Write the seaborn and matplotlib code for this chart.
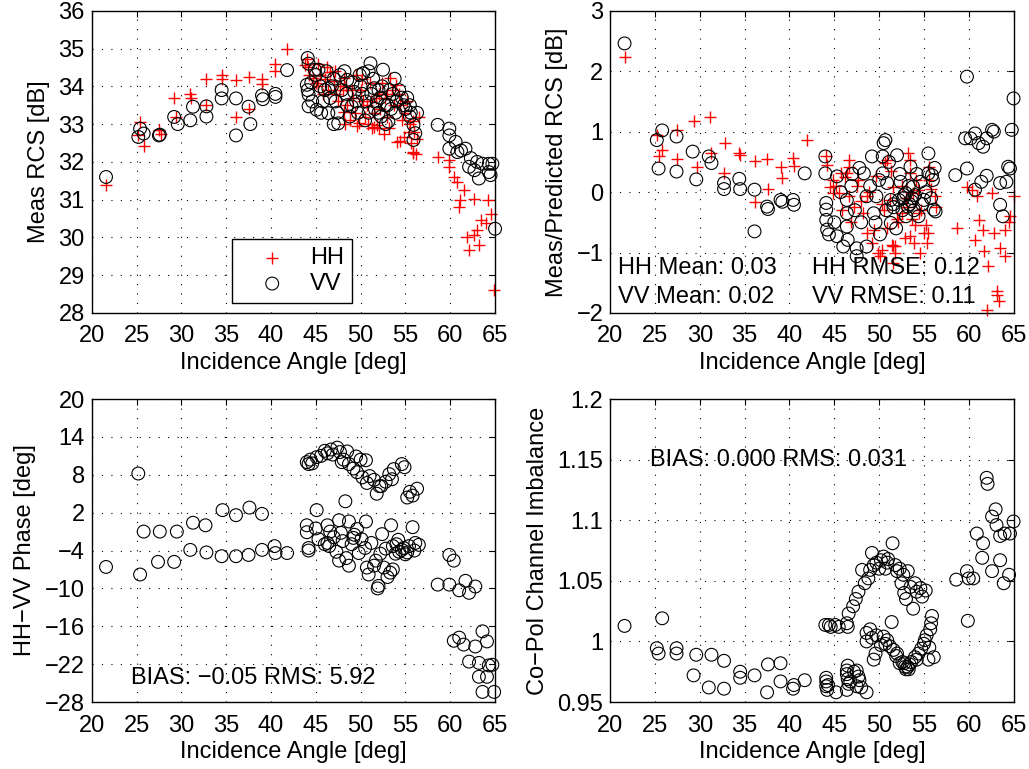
import matplotlib
matplotlib.use("Agg")
import matplotlib.pyplot as plt
import seaborn as sns
from matplotlib.ticker import FuncFormatter

# ---- panel 1: measured RCS [dB] ----
rcs_hh_ang = [21.6, 25.2, 25.4, 25.8, 27.5, 27.7, 29.2, 29.4, 31.0, 31.1, 32.8, 32.8,
              34.5, 34.5, 36.1, 36.1, 37.5, 37.6, 39.0, 39.0, 40.4, 40.4, 41.8,
              44.0, 44.1, 43.8, 44.2, 44.7, 45.0, 45.5, 45.3, 46.0, 46.6, 46.4, 47.0,
              47.3, 47.5, 48.1, 48.0, 48.1, 48.5, 48.8, 49.2, 49.8, 49.5, 50.0, 50.3,
              50.7, 51.0, 51.3, 51.5, 51.8, 51.5, 52.0, 52.2, 52.6, 52.7, 53.0, 53.3,
              53.5, 54.0, 54.1, 54.3, 54.4, 54.4, 54.8, 55.0, 55.2, 55.5, 55.9, 55.8,
              55.9, 56.2, 56.0, 56.5,
              45.2, 45.8, 46.3, 47.1, 47.7, 48.4, 49.0, 49.4, 50.2, 50.5, 51.2, 51.7,
              52.4, 52.9, 53.7, 53.2, 52.0, 50.8, 49.6, 48.3, 55.4, 55.6, 54.6, 56.3,
              58.6, 59.9, 59.9, 60.4, 60.8, 61.5, 61.1, 61.0, 62.7, 64.2, 64.5, 63.4,
              64.0, 63.0, 61.9, 62.7, 62.1, 63.2, 64.9]
rcs_hh_val = [31.4, 32.7, 33.06, 32.42, 32.85, 32.75, 33.7, 33.2, 33.8, 33.7, 34.2, 33.5,
              34.3, 34.2, 34.16, 33.2, 34.25, 33.4, 34.2, 34.05, 34.6, 34.4, 35.0,
              34.73, 34.5, 34.57, 34.3, 34.22, 34.1, 34.3, 34.0, 34.2, 34.39, 33.9, 34.13,
              33.8, 33.6, 34.22, 33.9, 33.33, 33.5, 33.11, 33.7, 33.02, 34.3, 33.9, 33.6,
              33.51, 34.1, 32.89, 32.93, 32.98, 33.3, 33.8, 33.4, 32.75, 33.69, 33.2, 34.22,
              33.9, 34.04, 32.53, 33.8, 33.51, 32.54, 32.66, 33.3, 33.6, 33.0, 33.07, 32.26,
              32.23, 32.2, 32.8, 33.2,
              34.6, 33.8, 34.5, 34.4, 34.0, 34.0, 33.9, 33.3, 34.2, 33.2, 33.6, 33.7,
              34.1, 33.8, 33.5, 32.9, 32.9, 33.0, 32.95, 33.0, 32.8, 32.5, 33.1, 32.6,
              32.13, 32.04, 31.87, 31.6, 31.47, 31.25, 30.98, 30.8, 31.03, 30.98, 30.63, 30.45,
              30.37, 30.19, 30.01, 30.06, 29.66, 29.8, 28.6]
rcs_vv_ang = [21.6, 25.2, 25.4, 25.8, 27.5, 27.6, 29.2, 29.6, 31.0, 31.3, 32.8, 32.8,
              34.5, 34.5, 36.1, 36.1, 37.5, 37.7, 39.0, 39.1, 40.5, 40.5, 41.8,
              44.1, 44.2, 44.9, 45.3, 44.0, 44.1, 44.2, 44.2, 45.1, 45.0, 46.0, 46.4,
              46.4, 46.6, 47.5, 47.0, 47.7, 47.2, 48.5, 48.4, 48.5, 49.0, 49.3, 49.7,
              50.3, 50.0, 51.1, 50.9, 50.6, 50.9, 51.5, 51.8, 52.0, 52.5, 52.2, 53.0,
              53.1, 52.3, 53.6, 54.0, 54.6, 55.0, 55.5, 55.5, 55.9, 56.1, 55.9, 56.3, 53.8,
              45.5, 45.8, 46.2, 46.8, 47.4, 47.9, 48.2, 48.8, 49.1, 49.5, 49.9, 50.2,
              50.5, 51.2, 51.4, 51.6, 52.0, 52.4, 52.7, 53.2, 53.4, 53.9, 54.3, 54.8,
              55.2, 55.6, 44.6, 44.5, 45.6, 47.0, 52.8,
              58.6, 59.9, 59.9, 59.9, 60.6, 61.2, 61.7, 60.8, 62.3, 62.1, 63.0, 62.7,
              63.6, 63.2, 64.3, 64.7, 64.3, 64.5, 65.0]
rcs_vv_val = [31.6, 32.66, 32.88, 32.75, 32.7, 32.72, 33.19, 33.0, 33.1, 33.46, 33.47, 33.2,
              33.9, 33.68, 33.68, 32.7, 33.46, 33.0, 33.76, 33.66, 33.8, 33.72, 34.43,
              34.75, 34.6, 34.44, 34.44, 34.04, 33.9, 33.78, 33.47, 33.38, 34.3, 33.9, 33.29,
              33.95, 33.69, 33.02, 34.2, 34.3, 33.6, 34.17, 33.8, 33.5, 33.47, 33.85, 33.3,
              34.35, 34.0, 34.61, 34.4, 33.6, 33.3, 33.95, 33.6, 33.9, 34.44, 33.7, 33.5,
              33.07, 33.2, 33.8, 33.6, 33.7, 33.4, 33.5, 33.2, 32.98, 32.76, 32.58, 33.3, 34.2,
              34.0, 33.6, 34.4, 34.0, 33.3, 33.9, 34.4, 33.2, 34.1, 33.6, 34.3, 33.8,
              33.1, 33.8, 34.2, 33.4, 33.3, 34.0, 33.5, 33.9, 33.4, 33.3, 33.9, 33.5,
              33.7, 33.3, 33.6, 34.1, 33.3, 33.0, 33.0,
              32.98, 32.88, 32.7, 32.35, 32.53, 32.3, 32.35, 32.26, 32.1, 31.87, 32.0, 31.78,
              31.95, 31.56, 31.95, 31.95, 31.73, 31.65, 30.23]

# ---- panel 2: measured / predicted RCS [dB] ----
ratio_hh_ang = [21.6, 25.2, 25.5, 25.8, 27.5, 27.4, 29.3, 29.7, 31.1, 31.3, 32.8, 32.7,
                34.4, 34.5, 36.1, 36.1, 37.5, 37.6, 39.0, 39.2, 40.4, 40.5, 41.9,
                44.1, 44.2, 44.5, 44.9, 45.5, 46.6, 46.6, 46.4, 46.6, 47.2, 48.2, 48.6,
                49.4, 49.9, 50.1, 50.9, 50.7, 51.2, 51.4, 51.6, 51.8, 51.5, 52.9, 53.4,
                53.2, 53.4, 53.4, 53.8, 54.3, 54.4, 55.0, 54.6, 55.3, 55.5, 55.6, 55.6,
                56.2, 52.5, 51.6, 49.7, 48.6, 45.7, 44.9, 47.5, 50.3, 52.0, 53.0, 54.0,
                45.2, 45.9, 46.2, 46.9, 47.6, 48.0, 48.9, 49.2, 50.5, 50.9, 51.3, 52.1,
                52.6, 53.1, 53.7, 54.1, 54.7, 55.2, 55.8, 56.4, 51.8, 50.3, 53.9,
                58.7, 59.8, 60.4, 60.9, 61.1, 61.6, 60.7, 61.7, 62.6, 62.8, 63.5, 64.1,
                64.1, 64.5, 65.0, 64.6, 62.2, 63.1, 63.4, 62.0, 63.2]
ratio_hh_val = [2.23, 0.94, 0.59, 0.70, 1.02, 0.55, 1.18, 0.42, 1.25, 0.65, 0.82, 0.32,
                0.64, 0.61, 0.51, -0.16, 0.54, 0.05, 0.42, 0.23, 0.57, 0.43, 0.86,
                0.59, 0.45, 0.09, -0.02, -0.02, 0.53, 0.42, 0.31, -0.07, -0.24, -0.35, -0.68,
                -0.62, -1.01, -1.06, 0.53, 0.48, -0.13, -0.87, -0.90, -1.01, -1.17, -0.76, -0.73,
                0.64, 0.53, 0.31, -0.02, 0.04, -0.35, -0.68, -1.01, -0.84, -0.68, 0.20, 0.42,
                -0.07, -0.35, 0.09, 0.26, -0.07, 0.31, 0.20, 0.10, -0.20, -0.45, -0.10, -0.55,
                0.10, -0.30, 0.25, -0.50, 0.20, -0.15, 0.00, -0.85, -0.30, -0.60, 0.35, -0.50,
                0.10, -0.25, -0.45, 0.20, -0.30, -0.55, 0.05, -0.25, -0.90, -0.95, -0.85,
                -0.60, 0.09, 0.04, -0.07, -0.46, -0.62, -0.79, -0.98, -0.02, -0.68, -0.93, -1.06,
                -0.62, -0.49, -0.07, -0.40, -1.23, -1.64, -1.81, -1.95, -1.70]
ratio_vv_ang = [21.6, 25.2, 25.8, 25.4, 27.4, 27.4, 29.2, 29.6, 31.0, 31.3, 32.7, 32.7,
                34.4, 34.5, 36.1, 36.1, 37.5, 37.6, 39.0, 39.2, 40.4, 40.5, 41.7,
                44.0, 44.0, 44.1, 44.1, 44.1, 44.2, 44.4, 45.3, 45.3, 46.4, 46.4, 46.4,
                46.5, 47.5, 47.5, 47.0, 48.3, 49.2, 48.6, 49.4, 49.7, 50.4, 50.5, 50.7,
                50.4, 50.9, 51.3, 51.3, 52.0, 52.2, 52.4, 52.8, 53.0, 53.2, 53.5, 53.8,
                54.4, 54.6, 55.0, 55.5, 55.5, 55.9, 56.1, 56.0, 56.3, 53.4, 52.6, 51.6,
                45.0, 45.7, 46.0, 46.9, 47.3, 47.8, 48.0, 48.6, 49.0, 49.6, 50.0, 50.1,
                50.8, 51.1, 51.6, 51.9, 52.3, 52.7, 53.0, 53.3, 53.6, 53.9, 54.2, 54.8,
                55.2, 55.8, 56.2, 54.0, 53.7,
                58.5, 59.8, 59.6, 59.8, 60.2, 60.7, 61.1, 61.6, 62.0, 62.6, 62.8, 61.4,
                62.0, 60.7, 63.5, 64.2, 64.4, 64.8, 65.0, 63.5, 63.8, 64.6]
ratio_vv_val = [2.46, 0.86, 1.02, 0.39, 0.92, 0.34, 0.67, 0.21, 0.59, 0.48, 0.15, 0.05,
                0.22, 0.05, 0.04, -0.65, -0.24, -0.28, -0.13, -0.16, -0.13, -0.21, 0.31,
                0.59, 0.31, -0.18, -0.29, -0.46, -0.62, -0.70, -0.73, 0.26, -0.13, -0.35, -0.57,
                -0.79, -0.93, -1.06, 0.30, 0.31, 0.59, -0.07, -0.35, -0.07, 0.31, 0.81, 0.86,
                0.59, 0.15, -0.13, -0.51, 0.61, -0.13, 0.17, -0.05, -0.02, -0.24, 0.42, 0.09,
                -0.40, 0.17, -0.13, 0.64, 0.31, 0.28, -0.29, 0.20, -0.32, -0.20, -0.30, -0.25,
                -0.50, 0.00, -0.90, 0.10, -0.30, 0.40, -0.50, -0.90, 0.10, -0.50, 0.20, -0.70,
                -0.30, 0.50, -0.20, -0.60, 0.30, -0.10, -0.40, 0.10, -0.15, -0.30, 0.30, -0.20,
                0.00, -0.10, 0.40, -0.05, -0.10,
                0.28, 1.91, 0.89, 0.39, 0.89, 0.97, 0.81, 0.75, 0.89, 1.03, 1.00, 0.17,
                0.27, 0.04, 0.15, 0.17, 0.42, 1.03, 1.55, -0.21, -0.40, 0.39]

# ---- panel 3: HH-VV phase [deg] ----
phase_ang = [21.6, 25.2, 25.4, 25.8, 27.6, 27.4, 29.2, 29.5, 31.0, 31.3, 32.7, 32.8,
             34.5, 34.6, 36.1, 36.1, 37.6, 37.5, 39.0, 39.0, 40.4, 40.5, 41.8,
             44.0, 44.2, 44.4, 45.1, 46.3, 46.7, 47.4, 48.5, 47.9, 48.7, 49.6, 50.0,
             50.6, 50.7, 51.5, 51.8, 52.3, 52.8, 53.2, 53.7, 54.6, 55.2, 55.8, 56.3,
             44.6, 45.6, 46.0, 46.9, 47.7, 48.1, 49.2, 49.5, 50.2, 51.0, 52.1, 53.5,
             54.9, 55.5,
             48.3, 45.1,
             44.0, 44.0, 44.2, 44.2, 46.3, 46.6, 46.3, 46.5, 47.6, 47.8, 47.6, 48.7,
             48.7, 49.6, 49.8, 50.6, 50.7, 50.9, 51.7, 51.9, 52.0, 52.4, 52.6, 53.3,
             53.6, 53.4, 53.6, 54.0, 54.6, 55.4, 55.8, 56.1, 56.5, 55.0, 49.2, 54.3,
             45.0, 45.3, 46.0, 47.0, 47.3, 48.0, 48.4, 49.0, 49.3, 50.1, 50.5, 51.2,
             51.5, 52.2, 52.8, 53.0, 53.9, 54.2, 54.8, 55.2, 56.0,
             59.9, 60.4, 58.6, 59.9, 61.0, 61.7, 62.1, 62.8,
             60.4, 61.0, 61.5, 62.8, 63.6, 64.1, 62.1, 63.2, 64.3, 64.7, 63.2, 64.1,
             63.6, 64.9]
phase_val = [-6.6, 8.2, -7.8, -1.0, -1.0, -5.8, -5.8, -1.0, -3.9, 0.4, 0.0, -4.3,
             -4.9, 2.4, 1.6, -4.9, 2.8, -4.7, 1.8, -3.9, -3.3, -4.4, -4.4,
             10.0, 9.7, 10.4, 10.8, 11.4, 12.0, 12.3, 11.7, 10.0, 9.7, 8.4, 10.4,
             10.3, 6.7, 7.2, 5.0, 6.2, 6.9, 8.1, 8.9, 9.7, 4.4, 4.7, 5.8,
             9.8, 11.0, 11.8, 11.2, 11.6, 10.4, 9.0, 10.9, 7.6, 7.8, 6.2, 7.3,
             9.2, 5.3,
             3.8, 2.4,
             0.0, -1.1, -3.6, -4.0, 0.0, -1.0, -2.8, -3.3, 0.8, -1.2, -5.6, -6.4,
             0.6, -0.6, -4.4, 0.6, -6.7, -7.8, -5.6, -10.0, -9.6, -1.4, -6.7, -7.5,
             -7.0, 0.0, -3.3, -3.0, -3.9, -3.3, -0.3, -2.8, -3.1, -4.6, -2.0, -4.2,
             -0.5, -2.2, -3.0, -1.9, -4.2, -2.5, -5.2, -3.0, -1.5, -2.2, -3.6, -2.8,
             -6.4, -4.5, -3.7, -8.2, -4.5, -2.3, -3.6, -4.3, -4.0,
             -4.7, -5.6, -9.4, -9.4, -10.3, -8.8, -10.7, -9.7,
             -18.3, -17.8, -18.9, -19.2, -16.8, -18.4, -21.6, -21.8, -22.2, -22.1, -24.0, -24.0,
             -26.4, -26.4]

# ---- panel 4: co-pol channel imbalance ----
imb_ang = [21.6, 25.8, 25.2, 25.4, 27.4, 27.4, 29.6, 31.3, 29.3, 31.0, 32.7, 32.7,
           34.5, 34.5, 36.1, 37.5, 37.6, 39.0, 39.0, 40.4, 40.5, 41.7,
           44.1, 44.1, 44.1, 44.2, 45.2, 44.0, 44.4, 45.1, 46.4, 46.5, 46.4, 46.4,
           46.5, 46.6, 46.4, 47.5, 47.7, 47.5, 48.6,
           44.3, 46.5, 46.8, 47.2, 47.8, 48.0, 44.6, 45.5,
           46.6, 47.1, 47.7, 48.4, 48.1, 49.0, 49.2, 49.7, 50.5, 50.7, 50.9, 51.5,
           51.8, 52.3, 52.7, 52.8, 53.2, 53.8, 54.2, 54.6, 54.8, 55.2, 51.4,
           47.4, 48.8, 49.4, 50.0, 50.2, 51.0, 52.0, 52.5, 53.5, 54.0, 53.0,
           48.6, 49.0, 48.6, 49.7, 50.5, 50.7, 51.6, 52.0, 52.3, 52.9, 53.2, 53.4,
           54.0, 54.4, 55.0, 55.1, 55.7, 55.9, 56.1, 55.5, 49.6, 49.4,
           49.2, 50.2, 50.9, 51.2, 51.9, 52.6, 53.0, 53.3, 53.6, 54.2, 54.7, 55.3,
           55.6, 55.8, 52.8,
           58.6, 59.8, 60.0, 60.5, 59.9, 60.9, 61.6, 61.5, 62.0, 62.1, 62.6, 63.0,
           63.1, 63.5, 64.0, 64.6, 65.0, 63.5, 62.6, 64.5, 63.9]
imb_val = [1.0128, 1.0191, 0.9944, 0.990, 0.9944, 0.990, 0.989, 0.989, 0.972, 0.962, 0.984, 0.961,
           0.975, 0.970, 0.972, 0.958, 0.981, 0.982, 0.967, 0.961, 0.964, 0.968,
           0.970, 0.967, 0.963, 0.960, 0.958, 1.0136, 1.0136, 1.0136, 1.015, 1.012, 0.976, 0.973,
           0.969, 0.965, 0.960, 0.976, 0.971, 0.963, 0.958,
           0.964, 0.980, 0.967, 0.975, 0.968, 0.962, 1.012, 1.012,
           1.023, 1.029, 1.041, 1.048, 1.059, 1.059, 1.073, 1.065, 1.070, 1.060, 1.065, 1.081,
           1.063, 1.060, 1.055, 1.040, 1.058, 1.027, 1.041, 1.044, 1.037, 1.042, 1.016,
           1.035, 1.052, 1.063, 1.060, 1.067, 1.068, 1.058, 1.048, 1.045, 1.048, 1.035,
           1.007, 1.010, 1.000, 1.005, 1.004, 0.998, 0.993, 0.990, 0.982, 0.979, 0.979, 0.981,
           0.987, 0.990, 0.998, 1.001, 1.010, 1.021, 0.987, 0.985, 0.990, 0.985,
           1.003, 0.997, 1.001, 0.996, 0.988, 0.983, 0.977, 0.977, 0.983, 0.985, 0.994, 1.005,
           0.995, 1.015, 0.982,
           1.051, 1.058, 1.052, 1.052, 1.017, 1.089, 1.081, 1.069, 1.135, 1.130, 1.103, 1.109,
           1.096, 1.087, 1.089, 1.089, 1.099, 1.067, 1.058, 1.055, 1.048]

sns.set_theme(style="white")
plt.rcParams["font.family"] = ["Liberation Sans", "DejaVu Sans"]
plt.rcParams["text.color"] = "black"
plt.rcParams["axes.labelcolor"] = "black"
FS = 17

fig = plt.figure(figsize=(10.29, 7.69), dpi=100)
ax1 = fig.add_axes([0.0891, 0.593, 0.392, 0.393])
ax2 = fig.add_axes([0.593, 0.593, 0.392, 0.393])
ax3 = fig.add_axes([0.0891, 0.0871, 0.392, 0.394])
ax4 = fig.add_axes([0.593, 0.0871, 0.392, 0.394])

hh_kw = dict(marker="+", color="red", s=70, linewidth=1.0, clip_on=False)
vv_kw = dict(marker="o", facecolor="none", edgecolor="black", s=85, linewidth=0.8,
             clip_on=False)


def style(ax, ylim, yticks, ylabel):
    ax.set_xlim(20, 65)
    ax.set_xticks(range(20, 66, 5))
    ax.set_ylim(*ylim)
    ax.set_yticks(yticks)
    ax.set_axisbelow(True)
    ax.grid(True, color="black", linewidth=0.8, linestyle=(0, (1, 7.5)))
    ax.tick_params(direction="in", top=True, right=True, length=4, width=0.8,
                   labelsize=FS, colors="black")
    ax.tick_params(axis="x", pad=9)
    ax.tick_params(axis="y", pad=5)
    for sp in ax.spines.values():
        sp.set_color("black")
        sp.set_linewidth(1.0)
    ax.set_xlabel("Incidence Angle [deg]", fontsize=FS, labelpad=3)
    ax.set_ylabel(ylabel, fontsize=FS, labelpad=6)


sns.scatterplot(x=rcs_hh_ang, y=rcs_hh_val, ax=ax1, label="HH", **hh_kw)
sns.scatterplot(x=rcs_vv_ang, y=rcs_vv_val, ax=ax1, label="VV", **vv_kw)
style(ax1, (28, 36), range(28, 37), "Meas RCS [dB]")
leg = ax1.legend(loc="lower left", bbox_to_anchor=(0.348, 0.033), fontsize=FS,
                 frameon=True, fancybox=False, edgecolor="black", framealpha=1,
                 handlelength=2.7, handletextpad=0.25, borderpad=0.35,
                 labelspacing=0.15, borderaxespad=0)
leg.get_frame().set_linewidth(1.0)
leg.set_zorder(5)

sns.scatterplot(x=ratio_hh_ang, y=ratio_hh_val, ax=ax2, **hh_kw)
sns.scatterplot(x=ratio_vv_ang, y=ratio_vv_val, ax=ax2, **vv_kw)
style(ax2, (-2, 3), range(-2, 4), "Meas/Predicted RCS [dB]")
ax2.text(20.9, -1.25, "HH Mean: 0.03", fontsize=FS, va="center")
ax2.text(42.5, -1.25, "HH RMSE: 0.12", fontsize=FS, va="center")
ax2.text(20.9, -1.73, "VV Mean: 0.02", fontsize=FS, va="center")
ax2.text(42.5, -1.73, "VV RMSE: 0.11", fontsize=FS, va="center")

sns.scatterplot(x=phase_ang, y=phase_val, ax=ax3, **vv_kw)
style(ax3, (-28, 20), range(-28, 21, 6), "HH\u2212VV Phase [deg]")
ax3.text(24.4, -24.2, "BIAS: \u22120.05 RMS: 5.92", fontsize=FS, va="center")

sns.scatterplot(x=imb_ang, y=imb_val, ax=ax4, **vv_kw)
style(ax4, (0.95, 1.2), [0.95, 1.0, 1.05, 1.1, 1.15, 1.2], "Co\u2212Pol Channel Imbalance")
ax4.yaxis.set_major_formatter(FuncFormatter(lambda v, p: f"{v:g}"))
ax4.text(24.4, 1.15, "BIAS: 0.000 RMS: 0.031", fontsize=FS, va="center")

fig.savefig("out.png", dpi=100)
